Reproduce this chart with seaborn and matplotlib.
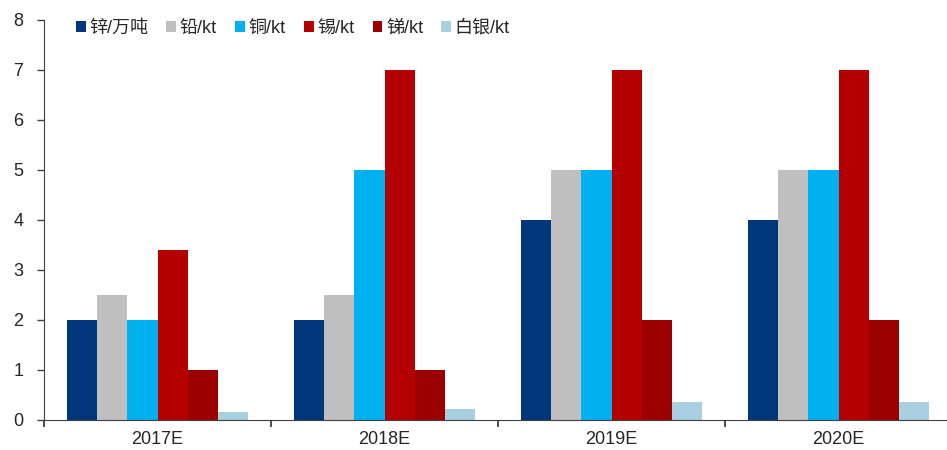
import matplotlib
matplotlib.use("Agg")
import matplotlib.pyplot as plt
import seaborn as sns
import pandas as pd

years = ["2017E", "2018E", "2019E", "2020E"]
series_names = ["锌/万吨", "铅/kt", "铜/kt", "锡/kt", "锑/kt", "白银/kt"]
zinc = [2, 2, 4, 4]
lead = [2.5, 2.5, 5, 5]
copper = [2, 5, 5, 5]
tin = [3.4, 7, 7, 7]
antimony = [1, 1, 2, 2]
silver = [0.15, 0.22, 0.35, 0.35]
colors = ["#00377A", "#BFBFBF", "#00B0F0", "#B40000", "#9B0000", "#A8D0E0"]

rows = []
for name, vals in zip(series_names, [zinc, lead, copper, tin, antimony, silver]):
    for y, v in zip(years, vals):
        rows.append({"year": y, "series": name, "value": v})
df = pd.DataFrame(rows)

sns.set_style("white")
plt.rcParams["font.family"] = ["Liberation Sans", "Noto Sans CJK SC", "DejaVu Sans"]

fig = plt.figure(figsize=(9.47, 4.5), dpi=100)
# the plotting area runs slightly past the right edge of the canvas
ax = fig.add_axes([0.0465, 0.0667, 0.9588, 0.8889])

sns.barplot(data=df, x="year", y="value", hue="series", hue_order=series_names,
            palette=colors, saturation=1, width=0.8, gap=0, ax=ax,
            errorbar=None, linewidth=0)

ax.set_ylim(0, 8)
ax.set_xlim(-0.5, 3.5)
ax.set_yticks(range(0, 9))
ax.set_xlabel("")
ax.set_ylabel("")
ax.set_xticks([0, 1, 2, 3])
ax.set_xticklabels(years, fontsize=13)
ax.tick_params(axis="x", which="major", bottom=False, length=0, pad=8)
ax.tick_params(axis="y", left=True, labelsize=13, length=5, width=1, color="#404040",
               direction="out", pad=10)
# category boundary ticks on x axis
ax.set_xticks([-0.5, 0.5, 1.5, 2.5], minor=True)
ax.tick_params(axis="x", which="minor", bottom=True, length=5, width=1.2,
               color="#303030", direction="out")

for side in ["top", "right"]:
    ax.spines[side].set_visible(False)
ax.spines["left"].set_color("#404040")
ax.spines["bottom"].set_color("#404040")

leg = ax.legend(loc="upper left", bbox_to_anchor=(0.027, 1.018), ncol=6, frameon=False,
                fontsize=13, handlelength=0.55, handleheight=0.55, handletextpad=0.2,
                columnspacing=1.0, borderaxespad=0)
for h in leg.legend_handles:
    h.set_linewidth(0)

fig.savefig("out.png", dpi=100)
